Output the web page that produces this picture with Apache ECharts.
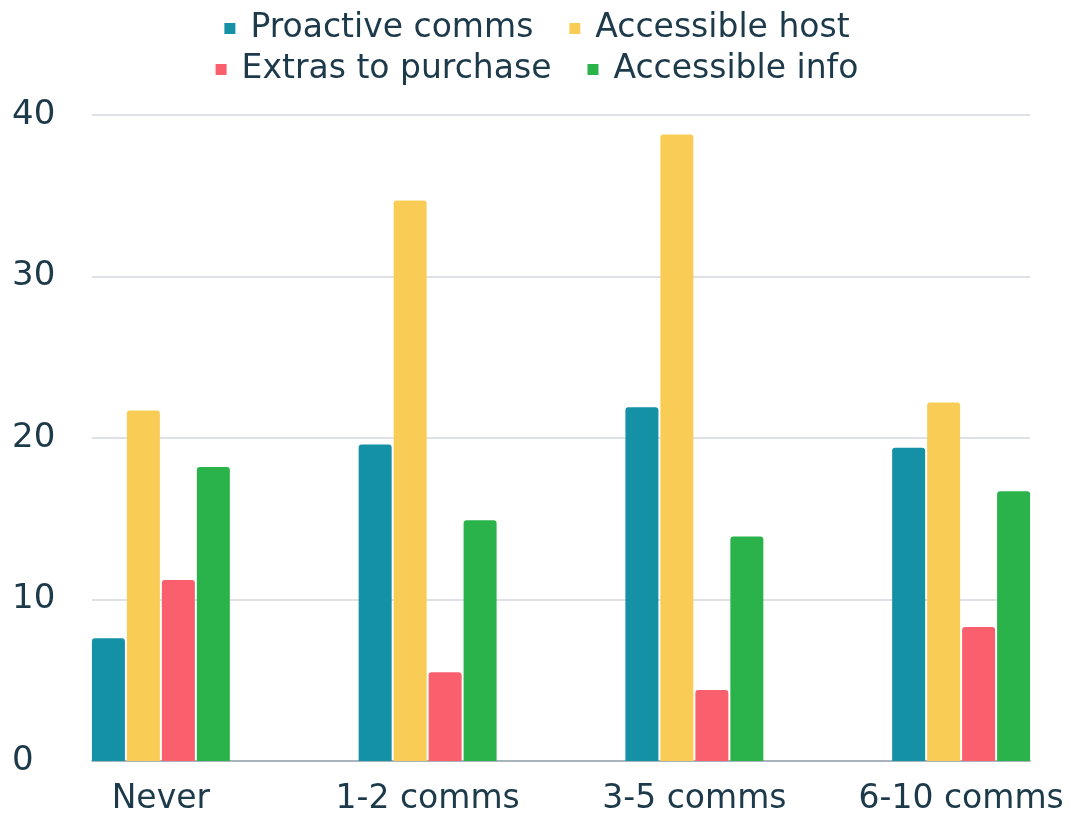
<!DOCTYPE html>
<html>
<head>
<meta charset="utf-8">
<style>
  html, body { margin: 0; padding: 0; background: #ffffff; }
  #chart { width: 1074px; height: 814px; }
</style>
<script src="https://cdn.jsdelivr.net/npm/echarts@6/dist/echarts.min.js"></script>
</head>
<body>
<div id="chart"></div>
<script>
// Survey responses grouped by how many communications were received
const categories = ['Never', '1-2 comms', '3-5 comms', '6-10 comms'];
const proactiveComms = [7.6, 19.6, 21.9, 19.4];
const accessibleHost = [21.7, 34.7, 38.8, 22.2];
const extrasToPurchase = [11.2, 5.5, 4.4, 8.3];
const accessibleInfo = [18.2, 14.9, 13.9, 16.7];
const yTicks = [0, 10, 20, 30, 40];

const textColor = '#1d3a4b';
const fontFamily = 'DejaVu Sans';
const colors = ['#1591a6', '#f9cd55', '#f95f6d', '#2bb34b'];

const chart = echarts.init(document.getElementById('chart'), null, { renderer: 'canvas' });

function barSeries(name, data, color) {
  return {
    name: name,
    type: 'bar',
    xAxisIndex: 1,
    yAxisIndex: 1,
    data: data,
    barWidth: 33,
    barGap: '6%',
    itemStyle: { color: color, borderRadius: [3, 3, 0, 0] },
    emphasis: { disabled: true }
  };
}

const legendText = {
  color: textColor, fontFamily: fontFamily, fontSize: 33,
  padding: [0, 0, 0, 10]
};

chart.setOption({
  animation: false,
  color: colors,
  legend: [
    {
      data: ['Proactive comms', 'Accessible host'],
      top: 7, left: 'center',
      icon: 'rect', itemWidth: 11, itemHeight: 11, itemGap: 36,
      textStyle: legendText
    },
    {
      data: ['Extras to purchase', 'Accessible info'],
      top: 48, left: 'center',
      icon: 'rect', itemWidth: 11, itemHeight: 11, itemGap: 36,
      textStyle: legendText
    }
  ],
  grid: [
    // frame grid: gridlines, baseline and value labels
    { left: 92, width: 938, top: 115, bottom: 53, outerBoundsMode: 'none' },
    // bar grid: wider so the outer groups sit flush with the frame edges
    { left: 27.5, width: 1067, top: 115, bottom: 53, outerBoundsMode: 'none' }
  ],
  xAxis: [
    {
      gridIndex: 0, type: 'value', min: 0, max: 1,
      axisLine: { show: true, lineStyle: { color: '#98a4ad', width: 1.5 } },
      axisTick: { show: false }, axisLabel: { show: false }, splitLine: { show: false }
    },
    {
      gridIndex: 1, type: 'category', data: categories,
      axisLine: { show: false }, axisTick: { show: false },
      axisLabel: {
        interval: 0, hideOverlap: false,
        color: textColor, fontFamily: fontFamily, fontSize: 33, margin: 22
      }
    }
  ],
  yAxis: [
    {
      gridIndex: 0, type: 'value', min: yTicks[0], max: yTicks[yTicks.length - 1], interval: 10,
      axisLine: { show: false }, axisTick: { show: false },
      axisLabel: { color: textColor, fontFamily: fontFamily, fontSize: 34, align: 'left', margin: 80 },
      splitLine: { lineStyle: { color: '#d3d9de', width: 1.5 } }
    },
    {
      gridIndex: 1, type: 'value', min: yTicks[0], max: yTicks[yTicks.length - 1], interval: 10,
      show: false
    }
  ],
  series: [
    barSeries('Proactive comms', proactiveComms, colors[0]),
    barSeries('Accessible host', accessibleHost, colors[1]),
    barSeries('Extras to purchase', extrasToPurchase, colors[2]),
    barSeries('Accessible info', accessibleInfo, colors[3])
  ]
});
</script>
</body>
</html>
